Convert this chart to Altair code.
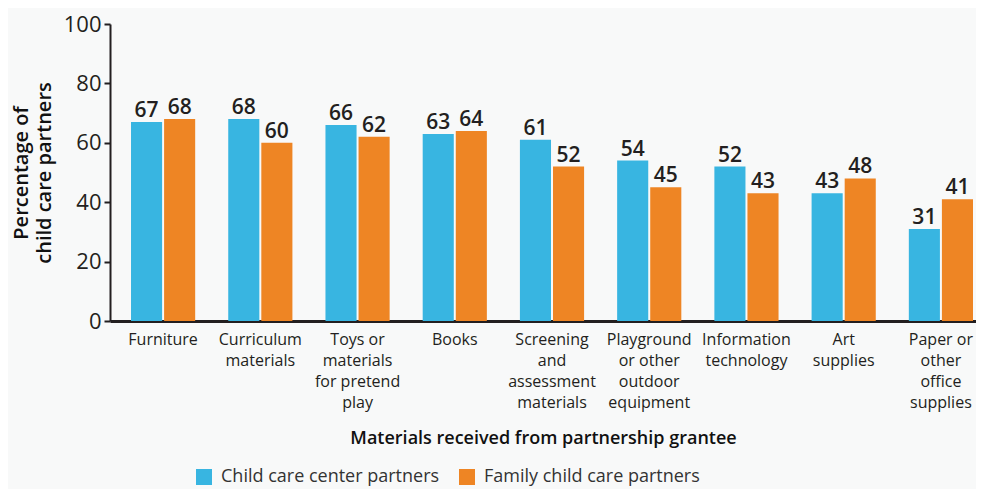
import altair as alt
import pandas as pd

categories = [
    "Furniture",
    "Curriculum\nmaterials",
    "Toys or\nmaterials\nfor pretend\nplay",
    "Books",
    "Screening\nand\nassessment\nmaterials",
    "Playground\nor other\noutdoor\nequipment",
    "Information\ntechnology",
    "Art\nsupplies",
    "Paper or\nother\noffice\nsupplies",
]
series = ["Child care center partners", "Family child care partners"]
center_values = [67, 68, 66, 63, 61, 54, 52, 43, 31]
family_values = [68, 60, 62, 64, 52, 45, 43, 48, 41]
y_ticks = [0, 20, 40, 60, 80, 100]
colors = ["#38b5e1", "#ee8524"]

rows = []
for c, a, b in zip(categories, center_values, family_values):
    rows.append({"cat": c, "series": series[0], "value": a})
    rows.append({"cat": c, "series": series[1], "value": b})
df = pd.DataFrame(rows)

FONT = "Open Sans"
DARK = "#231f20"

x = alt.X(
    "cat:N",
    sort=categories,
    scale=alt.Scale(paddingInner=0.34, paddingOuter=0.1235, align=0.875),
    axis=alt.Axis(
        title="Materials received from partnership grantee",
        labelAngle=0,
        labelExpr="split(datum.label, '\\n')",
        labelFontSize=16,
        labelLineHeight=21,
        labelColor=DARK,
        labelFont=FONT,
        labelPadding=10,
        labelBaseline="top",
        ticks=False,
        domainColor=DARK,
        domainWidth=3,
        titleFont=FONT,
        titleFontSize=18,
        titleFontWeight=600,
        titleColor="#111111",
        titlePadding=19,
    ),
)
xoff = alt.XOffset("series:N", sort=series, scale=alt.Scale(paddingInner=0.06))
y = alt.Y(
    "value:Q",
    scale=alt.Scale(domain=[0, 100]),
    axis=alt.Axis(
        values=y_ticks,
        title=["Percentage of", "child care partners"],
        titleFont=FONT,
        titleFontSize=20,
        titleFontWeight=600,
        titleColor="#111111",
        titleLineHeight=23,
        titlePadding=9,
        labelFont=FONT,
        labelFontSize=22,
        labelColor=DARK,
        labelPadding=3,
        tickSize=6,
        tickWidth=2,
        tickColor=DARK,
        domainColor=DARK,
        domainWidth=2,
        grid=False,
    ),
)
color = alt.Color(
    "series:N",
    sort=series,
    scale=alt.Scale(domain=series, range=colors),
    legend=alt.Legend(
        title=None,
        orient="none",
        legendX=85,
        legendY=444,
        direction="horizontal",
        symbolType="square",
        symbolSize=256,
        symbolStrokeWidth=0,
        symbolOpacity=1,
        labelFont=FONT,
        labelFontSize=18,
        labelColor="#333333",
        labelOffset=8,
        columnPadding=18,
        labelLimit=400,
    ),
)

base = alt.Chart(df)
bars = base.mark_bar(opacity=1).encode(x=x, xOffset=xoff, y=y, color=color)
labels = base.mark_text(
    dy=-5, font=FONT, fontSize=21, fontWeight=600, color=DARK, baseline="alphabetic"
).encode(
    x=alt.X("cat:N", sort=categories),
    xOffset=alt.XOffset("series:N", sort=series),
    y="value:Q",
    text="value:Q",
)

chart = (
    alt.layer(bars, labels)
    .properties(
        width=866,
        height=297,
        autosize="none",
        padding={"left": 102, "top": 16, "right": 0, "bottom": 168},
        background="#f8f9f9",
    )
    .configure_view(stroke=None)
)

chart.save("out.html", embed_options={"renderer": "svg", "actions": False})
